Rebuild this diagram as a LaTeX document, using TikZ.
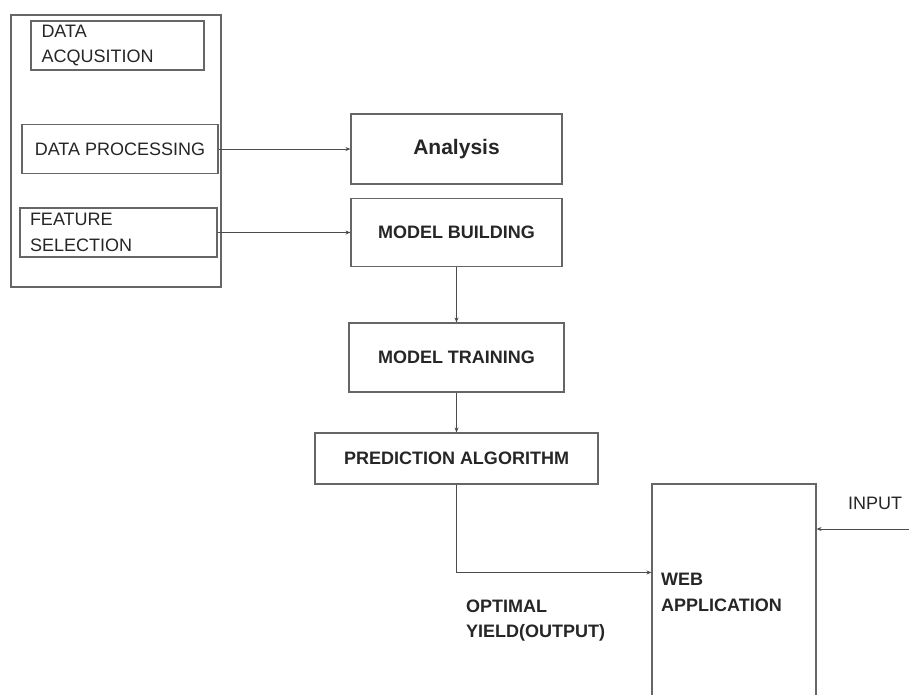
\documentclass[tikz,border=0pt]{standalone}
\usepackage{fontspec}
\setmainfont{Liberation Sans}
\usetikzlibrary{arrows.meta,calc}
\begin{document}
\begin{tikzpicture}[x=1pt,y=-1pt,
  box/.style={draw=black!60,line width=1.1pt,rectangle,inner sep=0pt,text=black!85,
    font=\fontsize{18}{25.5}\selectfont},
  bbox/.style={box,font=\fontsize{18}{25.5}\selectfont\bfseries},
  lbl/.style={text=black!85,inner sep=0pt,align=left,font=\fontsize{18}{25.5}\selectfont},
  conn/.style={draw=black!70,line width=1pt},
  arr/.style={conn,-{Stealth[length=5pt,width=4pt]}}]
\clip (0,0) rectangle (909,694);
\fill[white] (0,0) rectangle (909,694);
% left group
\node[box,minimum width=210pt,minimum height=272pt] (outer) at (116,151) {};
\node[box,minimum width=173pt,minimum height=49pt,text width=152pt,align=left] (da) at (117.5,45.5) {DATA\\ACQUSITION};
\node[box,minimum width=196pt,minimum height=49pt] (dp) at (120,149) {DATA PROCESSING};
\node[box,minimum width=197pt,minimum height=49pt,text width=177pt,align=left] (fs) at (118.5,232.5) {FEATURE\\SELECTION};
% main flow
\node[bbox,minimum width=211pt,minimum height=70pt,font=\fontsize{21}{25}\selectfont\bfseries] (an) at (456.5,149) {Analysis};
\node[bbox,minimum width=211pt,minimum height=68pt] (mb) at (456.5,232.5) {MODEL BUILDING};
\node[bbox,minimum width=215pt,minimum height=69pt] (mt) at (456.5,357.5) {MODEL TRAINING};
\node[bbox,minimum width=283pt,minimum height=51pt] (pa) at (456.5,458.5) {PREDICTION ALGORITHM};
\node[box,minimum width=164pt,minimum height=236pt] (wa) at (734,602) {};
\node[lbl,anchor=west,font=\fontsize{18}{25.5}\selectfont\bfseries] (watext) at (661,592.5) {WEB\\APPLICATION};
\node[lbl,anchor=west,font=\fontsize{18}{25.5}\selectfont\bfseries] (opt) at (466,620.5) {OPTIMAL\\YIELD(OUTPUT)};
\node[lbl] (inlbl) at (875,503) {INPUT};
\coordinate (inp) at (909,529);
% connectors
\draw[arr] (dp.east) -- (an.west);
\draw[arr] (fs.east) -- (mb.west);
\draw[arr] (mb.south) -- (mt.north);
\draw[arr] (mt.south) -- (pa.north);
\draw[arr] (pa.south) |- ([yshift=-89pt]wa.north west);
\draw[arr] (inp) -- (inp -| wa.east);
\end{tikzpicture}
\end{document}
